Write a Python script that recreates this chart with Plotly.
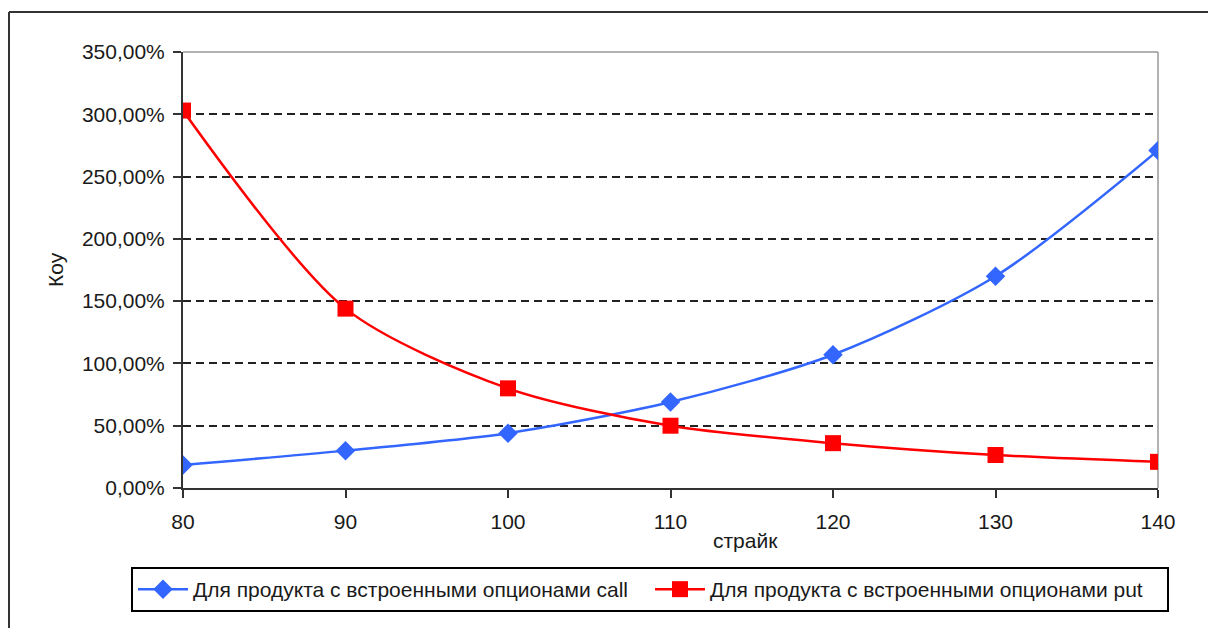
import plotly.graph_objects as go

strikes = [80, 90, 100, 110, 120, 130, 140]
call_vals = [18.5, 30, 44, 69, 107, 170, 271]
put_vals = [303, 144, 80, 50, 36, 26.5, 21]
call_name = "Для продукта с встроенными опционами call"
put_name = "Для продукта с встроенными опционами put"
y_ticks = [0, 50, 100, 150, 200, 250, 300, 350]
y_tick_text = [f"{v:.2f}".replace(".", ",") + "%" for v in y_ticks]
x_ticks = [80, 90, 100, 110, 120, 130, 140]

W, H = 1208, 628
L, R, T, B = 183, 1158, 52, 488
def px(x):
    return (x - L) / (R - L)
def py(y):
    return (B - y) / (B - T)

FONT = "Liberation Sans, Arial, sans-serif"
FS = 21
fig = go.Figure()
fig.add_trace(go.Scatter(x=strikes, y=call_vals, name=call_name, mode="lines+markers",
                         line=dict(color="#3366FF", width=2.5, shape="spline", smoothing=0.8),
                         marker=dict(symbol="diamond", size=15, color="#3366FF")))
fig.add_trace(go.Scatter(x=strikes, y=put_vals, name=put_name, mode="lines+markers",
                         line=dict(color="#FF0000", width=2.5, shape="spline", smoothing=0.8),
                         marker=dict(symbol="square", size=16, color="#FF0000")))

fig.update_layout(
    width=W, height=H,
    margin=dict(l=L, r=W - R, t=T, b=H - B, pad=0),
    paper_bgcolor="white", plot_bgcolor="white",
    font=dict(family=FONT, size=FS, color="#1a1a1a"),
    showlegend=True,
    legend=dict(orientation="h", x=px(131), y=py(567), xanchor="left", yanchor="top",
                bordercolor="black", borderwidth=2, bgcolor="white",
                font=dict(size=FS), traceorder="normal", itemwidth=50,
                entrywidth=452, entrywidthmode="pixels"),
    xaxis=dict(range=[80, 140], tickvals=x_ticks, showgrid=False, zeroline=False,
               showline=True, linecolor="#333", linewidth=2,
               ticks="outside", ticklen=8, tickcolor="#333", tickwidth=2,
               ticklabelstandoff=6),
    yaxis=dict(range=[0, 350], tickvals=y_ticks, ticktext=y_tick_text,
               showgrid=True, gridcolor="#222", gridwidth=1.5, griddash="8px,5px",
               zeroline=False, showline=True, linecolor="#333", linewidth=2,
               ticks="outside", ticklen=8, tickcolor="#333", tickwidth=2,
               ticklabelstandoff=4),
    annotations=[
        dict(text="страйк", x=px(745), y=py(540), xref="paper", yref="paper",
             xanchor="center", yanchor="middle", showarrow=False, font=dict(size=FS)),
        dict(text="Коу", x=px(55), y=py(270), xref="paper", yref="paper",
             xanchor="center", yanchor="middle",
             showarrow=False, textangle=-90, font=dict(size=FS)),
    ],
    shapes=[
        dict(type="line", xref="paper", yref="paper", x0=0, x1=1, y0=1, y1=1,
             line=dict(color="#999", width=1.5), layer="above"),
        dict(type="line", xref="paper", yref="paper", x0=1, x1=1, y0=0, y1=1,
             line=dict(color="#999", width=1.5), layer="below"),
        dict(type="line", xref="paper", yref="paper", x0=px(9), x1=px(1215), y0=py(12), y1=py(12),
             line=dict(color="#333", width=2)),
        dict(type="line", xref="paper", yref="paper", x0=px(9), x1=px(9), y0=py(12), y1=py(640),
             line=dict(color="#333", width=2)),
    ],
)
fig.write_html("out.html")
